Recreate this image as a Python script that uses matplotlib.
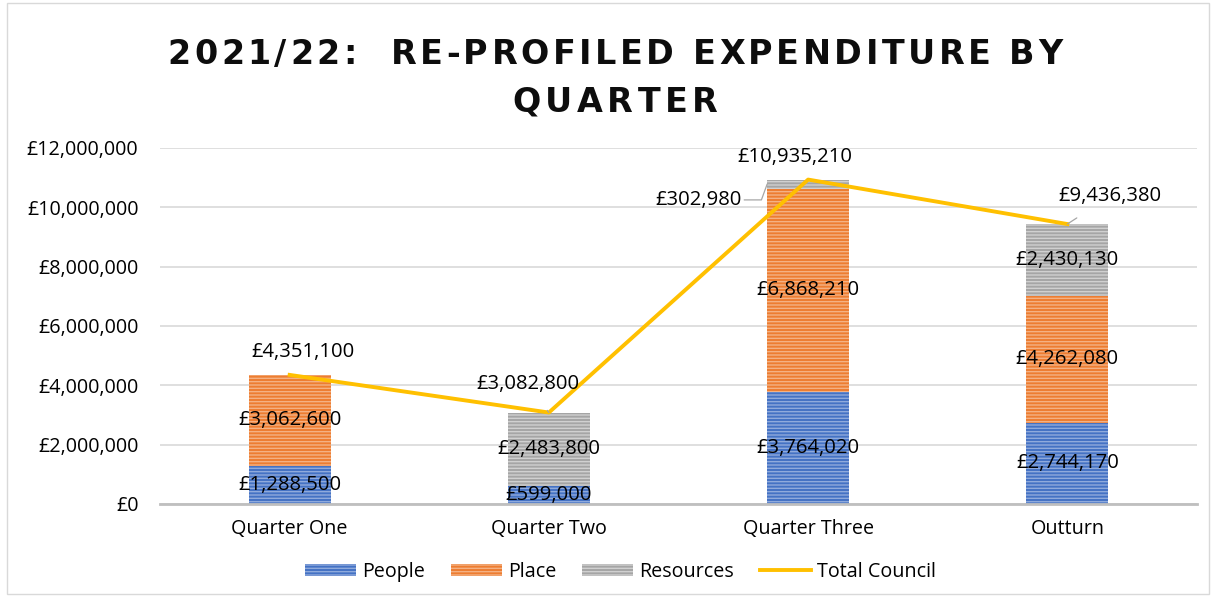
import numpy as np
import matplotlib.pyplot as plt
from matplotlib.patches import Patch, Rectangle
from matplotlib.lines import Line2D
from matplotlib.ticker import FuncFormatter

plt.rcParams['font.family'] = ['Open Sans', 'DejaVu Sans']
plt.rcParams['hatch.linewidth'] = 1.0

# 데이터
quarters = ['Quarter One', 'Quarter Two', 'Quarter Three', 'Outturn']
people = [1288500, 599000, 3764020, 2744170]
place = [3062600, 0, 6868210, 4262080]
resources = [0, 2483800, 302980, 2430130]
total_council = [4351100, 3082800, 10935210, 9436380]

def gbp(v):
    return '£{:,.0f}'.format(v)

fig = plt.figure(figsize=(12.14, 5.97), dpi=100)
ax = fig.add_axes([0.1318, 0.1558, 0.8542, 0.5963])

x = np.arange(len(quarters))
w = 0.316
people = np.array(people)
place = np.array(place)
resources = np.array(resources)

ax.bar(x, people, w, color='#4472C4', edgecolor='#8FAADC', linewidth=0, hatch='-----', zorder=2)
ax.bar(x, place, w, bottom=people, color='#ED7D31', edgecolor='#F4B183', linewidth=0, hatch='-----', zorder=2)
ax.bar(x, resources, w, bottom=people + place, color='#A5A5A5', edgecolor='#D0D0D0', linewidth=0, hatch='-----', zorder=2)
ax.plot(x, total_council, color='#FFC000', linewidth=2.8, zorder=3)

# 세그먼트 라벨 (가운데)
fs = 14.6
for i in range(len(quarters)):
    if people[i] > 0:
        ax.text(x[i], people[i] / 2, gbp(people[i]), ha='center', va='center', fontsize=fs, zorder=4)
    if place[i] > 0:
        ax.text(x[i], people[i] + place[i] / 2, gbp(place[i]), ha='center', va='center', fontsize=fs, zorder=4)
    if resources[i] > 1000000:
        ax.text(x[i], people[i] + place[i] + resources[i] / 2, gbp(resources[i]), ha='center', va='center', fontsize=fs, zorder=4)

lead = dict(arrowstyle='-', color='#A6A6A6', lw=0.9, shrinkB=0)

# 작은 Resources 라벨 (Q3) — 지시선
ax.annotate(gbp(resources[2]), xy=(x[2] - w / 2, people[2] + place[2] + resources[2] / 2),
            xytext=(x[2] - 0.424, 10250000), ha='center', va='center', fontsize=fs,
            arrowprops=dict(lead, connectionstyle='angle,angleA=0,angleB=70,rad=0', shrinkA=47))

# 합계 라벨
ax.text(x[0] + 0.05, total_council[0] + 770000, gbp(total_council[0]), ha='center', va='center', fontsize=fs)
ax.annotate(gbp(total_council[1]), xy=(x[1], total_council[1]), xytext=(x[1] - 0.08, 4040000),
            ha='center', va='center', fontsize=fs, arrowprops=dict(lead, shrinkA=12))
ax.text(x[2] - 0.05, 11700000, gbp(total_council[2]), ha='center', va='center', fontsize=fs)
ax.annotate(gbp(total_council[3]), xy=(x[3], total_council[3]), xytext=(x[3] + 0.166, 10380000),
            ha='center', va='center', fontsize=fs, arrowprops=dict(lead, shrinkA=12))

ax.set_xlim(-0.5, 3.5)
ax.set_ylim(0, 12000000)
ax.set_yticks(np.arange(0, 12000001, 2000000))
ax.yaxis.set_major_formatter(FuncFormatter(lambda v, p: gbp(v)))
ax.set_xticks(x)
ax.set_xticklabels(quarters)
ax.tick_params(axis='y', length=0, labelsize=14.2, pad=15.5)
ax.tick_params(axis='x', length=0, labelsize=14.2, pad=11)
ax.grid(axis='y', color='#D9D9D9', linewidth=1.2, zorder=0)
ax.set_axisbelow(True)
for s in ['top', 'right', 'left']:
    ax.spines[s].set_visible(False)
ax.spines['bottom'].set_color('#BFBFBF')
ax.spines['bottom'].set_linewidth(2)

# 제목 — 자간 넓힘 (글자 하나씩 배치)
renderer = fig.canvas.get_renderer()
fig_w = fig.bbox.width

def text_w(s, **kw):
    t = fig.text(0, 0, s, **kw)
    wpx = t.get_window_extent(renderer).width
    t.remove()
    return wpx

def spaced_title(s, xc, yc, target_px, **kw):
    base = text_w('HH', **kw)
    adv = [text_w('H' + c + 'H', **kw) - base for c in s]
    gap = (target_px - sum(adv)) / (len(s) - 1)
    xp = xc * fig_w - target_px / 2
    for c, a in zip(s, adv):
        if c != ' ':
            fig.text((xp + a / 2) / fig_w, yc, c, ha='center', va='baseline', **kw)
        xp += a + gap

title_kw = dict(fontsize=24, fontweight='bold', color='#0D0D0D', family='DejaVu Sans')
spaced_title('2021/22:  RE-PROFILED EXPENDITURE BY', 0.5066, 0.893, 895, **title_kw)
spaced_title('QUARTER', 0.5066, 0.813, 205, **title_kw)

handles = [
    Patch(facecolor='#4472C4', edgecolor='#8FAADC', linewidth=0, hatch='-----', label='People'),
    Patch(facecolor='#ED7D31', edgecolor='#F4B183', linewidth=0, hatch='-----', label='Place'),
    Patch(facecolor='#A5A5A5', edgecolor='#D0D0D0', linewidth=0, hatch='-----', label='Resources'),
    Line2D([0], [0], color='#FFC000', linewidth=2.8, label='Total Council'),
]
fig.legend(handles=handles, loc='center', bbox_to_anchor=(0.511, 0.042), ncol=4, frameon=False,
           fontsize=14.2, handlelength=2.6, handleheight=0.6, columnspacing=1.3, handletextpad=0.3)

fig.patches.append(Rectangle((0.006, 0.005), 0.99, 0.99, transform=fig.transFigure,
                             fill=False, edgecolor='#D9D9D9', linewidth=1))

fig.savefig('out.png', dpi=100)
